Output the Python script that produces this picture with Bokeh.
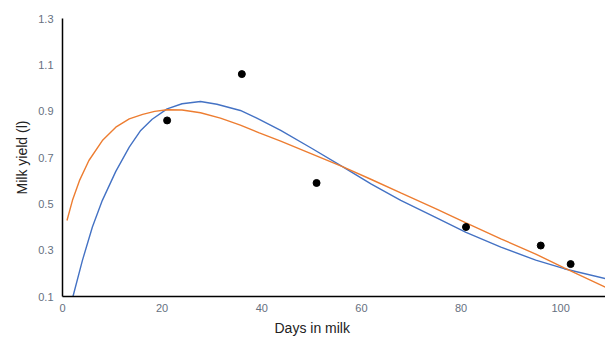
from bokeh.plotting import figure
from bokeh.models import Range1d, FixedTicker, Title
from bokeh.embed import file_html
from bokeh.resources import INLINE

# Observed points
obs_days = [21, 36, 51, 81, 96, 102]
obs_yield = [0.86, 1.06, 0.59, 0.40, 0.32, 0.24]

# Blue fitted curve
blue_days = [2.1, 4.0, 6.0, 8.0, 10.7, 13.4, 15.7, 18, 21, 24, 27.7, 31, 35.7, 39.5,
             43.8, 50, 56.2, 62, 67.9, 75, 81, 88, 95, 100.7, 109]
blue_yield = [0.10, 0.256, 0.40, 0.515, 0.64, 0.745, 0.817, 0.865, 0.91, 0.932, 0.942, 0.93,
              0.903, 0.865, 0.817, 0.74, 0.661, 0.585, 0.515, 0.44, 0.377, 0.313, 0.257,
              0.22, 0.177]

# Orange fitted curve
orange_days = [0.9, 2.0, 3.4, 5.3, 8.0, 10.7, 13.4, 16.1, 18.5, 21.0, 24, 27.7, 31.7, 35.7,
               39.5, 43.8, 50, 56.2, 62, 67.9, 75, 81, 88, 95, 100.7, 109]
orange_yield = [0.428, 0.515, 0.60, 0.687, 0.773, 0.831, 0.867, 0.886, 0.899, 0.906, 0.905,
                0.893, 0.870, 0.840, 0.806, 0.771, 0.716, 0.661, 0.605, 0.547, 0.478, 0.418,
                0.349, 0.283, 0.224, 0.14]

x_ticks = [0, 20, 40, 60, 80, 100]
y_ticks = [0.1, 0.3, 0.5, 0.7, 0.9, 1.1, 1.3]
x_title = "Days in milk"
y_title = "Milk yield (l)"

p = figure(width=605, height=338, output_backend="svg", toolbar_location=None,
           x_range=Range1d(0, 109), y_range=Range1d(0.1, 1.3),
           min_border_left=62, min_border_top=18, min_border_right=0, min_border_bottom=0)
p.outline_line_color = None
p.xgrid.visible = False
p.ygrid.visible = False
p.background_fill_color = "white"
p.border_fill_color = "white"

p.line(blue_days, blue_yield, line_color="#4472C4", line_width=1.4)
p.line(orange_days, orange_yield, line_color="#ED7D31", line_width=1.4)
p.scatter(obs_days, obs_yield, size=7, color="black")

for ax in (p.xaxis[0], p.yaxis[0]):
    ax.major_tick_line_color = None
    ax.minor_tick_line_color = None
    ax.major_tick_out = 0
    ax.major_tick_in = 0
    ax.minor_tick_out = 0
    ax.axis_line_color = "black"
    ax.axis_line_width = 1.5
    ax.major_label_text_font = "Liberation Sans"
    ax.major_label_text_font_size = "11px"
    ax.major_label_text_color = "#667080"
    ax.axis_label_text_font = "Liberation Sans"
    ax.axis_label_text_font_size = "14px"
    ax.axis_label_text_font_style = "normal"
    ax.axis_label_text_color = "#222222"

p.xaxis[0].ticker = FixedTicker(ticks=x_ticks)
p.yaxis[0].ticker = FixedTicker(ticks=y_ticks)
p.yaxis[0].major_label_overrides = {t: f"{t:.1f}" for t in y_ticks}
p.yaxis[0].axis_label = y_title
p.xaxis[0].major_label_standoff = 7
p.yaxis[0].major_label_standoff = 9
p.yaxis[0].axis_label_standoff = 5

# x-axis title placed below the axis, centred under the 0-100 tick span
p.add_layout(Title(text=x_title, align="left", offset=212, standoff=6,
                   text_font="Liberation Sans", text_font_size="14px",
                   text_font_style="normal", text_color="#222222"), "below")

open("out.html", "w").write(file_html(p, INLINE))
